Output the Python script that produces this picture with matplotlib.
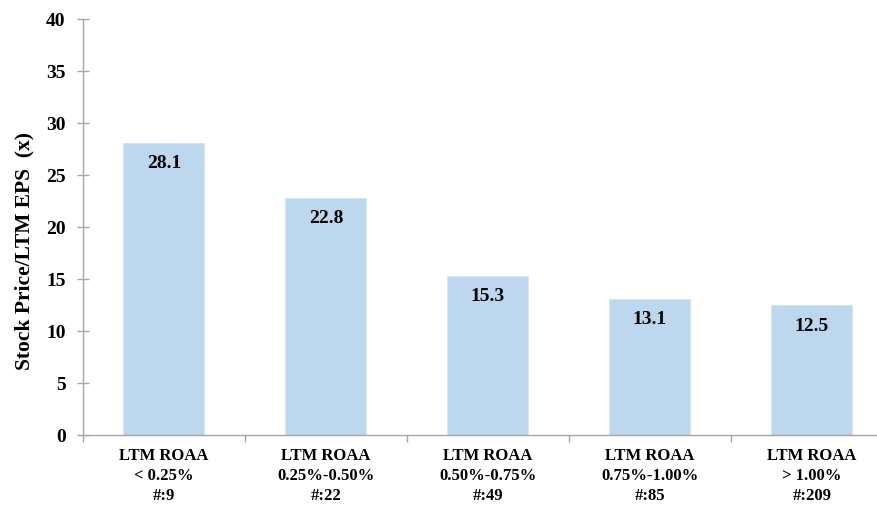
import matplotlib
matplotlib.use("Agg")
import matplotlib.pyplot as plt
import numpy as np

# values
categories = ["LTM ROAA\n< 0.25%\n#:9",
              "LTM ROAA\n0.25%-0.50%\n#:22",
              "LTM ROAA\n0.50%-0.75%\n#:49",
              "LTM ROAA\n0.75%-1.00%\n#:85",
              "LTM ROAA\n> 1.00%\n#:209"]
pe_ratio = [28.1, 22.8, 15.3, 13.1, 12.5]
y_ticks = [0, 5, 10, 15, 20, 25, 30, 35, 40]

plt.rcParams['font.family'] = ['Liberation Serif', 'DejaVu Serif']
plt.rcParams['font.weight'] = 'bold'

fig = plt.figure(figsize=(8.77, 5.07), dpi=100)
# the plot area runs a bit past the right edge of the picture
ax = fig.add_axes([0.0946, 0.142, 0.9236, 0.8205])

x = np.arange(len(categories))
bars = ax.bar(x, pe_ratio, width=0.5, color='#BDD7EE', edgecolor='#D6E6F5', linewidth=0.8, zorder=2)

for b, v in zip(bars, pe_ratio):
    ax.annotate(f"{v:.1f}", (b.get_x() + b.get_width() / 2, v),
                xytext=(0, -9), textcoords='offset points',
                ha='center', va='top', fontsize=14, fontweight='bold', color='black')

ax.set_xlim(-0.5, len(categories) - 0.5)
ax.set_ylim(0, 40)
ax.set_yticks(y_ticks)
ax.tick_params(axis='y', labelsize=14, direction='inout', length=9, width=1, color='#A6A6A6', pad=8)

# category labels sit between the boundary ticks
ax.set_xticks(np.arange(len(categories) + 1) - 0.5)
ax.set_xticklabels([])
ax.set_xticks(x, minor=True)
ax.set_xticklabels(categories, minor=True, fontsize=12, fontweight='bold', linespacing=1.37)
ax.tick_params(axis='x', which='major', direction='out', length=5, width=1, color='#A6A6A6')
ax.tick_params(axis='x', which='minor', length=0, pad=9)

for side in ['top', 'right']:
    ax.spines[side].set_visible(False)
for side in ['left', 'bottom']:
    ax.spines[side].set_color('#A6A6A6')
    ax.spines[side].set_linewidth(1)

ax.set_ylabel("Stock Price/LTM EPS  (x)", fontsize=15.5, fontweight='bold')
ax.yaxis.set_label_coords(-0.06, 0.442)

fig.savefig("out.png", dpi=100)
